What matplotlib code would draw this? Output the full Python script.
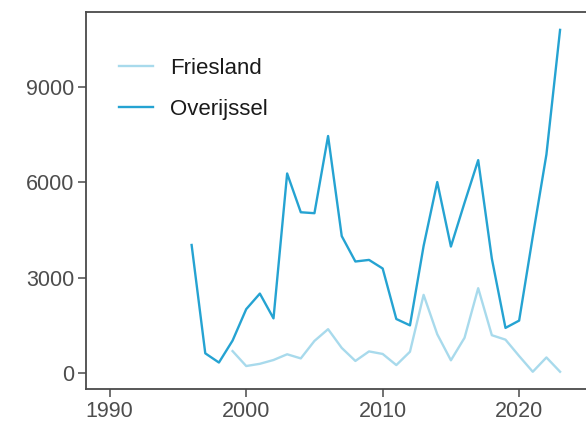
import matplotlib
matplotlib.use('Agg')
import matplotlib.pyplot as plt

plt.rcParams['font.family'] = ['Liberation Sans', 'DejaVu Sans']

# data
jaren_ov = list(range(1996, 2024))
overijssel = [4030, 620, 330, 1020, 2010, 2500, 1720, 6280, 5060, 5030,
              7460, 4310, 3510, 3560, 3290, 1700, 1500, 4000, 6010, 3980,
              5360, 6700, 3600, 1420, 1650, 4300, 6880, 10800]
jaren_fr = list(range(1999, 2024))
friesland = [690, 220, 290, 410, 590, 460, 1010, 1380, 790, 380,
             680, 600, 250, 670, 2460, 1220, 400, 1110, 2670, 1190,
             1050, 535, 40, 490, 40]
xticks = [1990, 2000, 2010, 2020]
yticks = [0, 3000, 6000, 9000]

c_fr = '#a8daec'
c_ov = '#25a3d2'

fig = plt.figure(figsize=(5.86, 4.21), dpi=100)
ax = fig.add_axes([86/586, 1-389/421, 500/586, 377/421])

ax.plot(jaren_fr, friesland, color=c_fr, lw=1.7, label='Friesland')
ax.plot(jaren_ov, overijssel, color=c_ov, lw=1.7, label='Overijssel')

ax.set_xlim(1988.26, 2024.9)
ax.set_ylim(-503, 11363)
ax.set_xticks(xticks)
ax.set_yticks(yticks)

for s in ['left', 'bottom', 'top']:
    ax.spines[s].set_color('#4a4a4a')
    ax.spines[s].set_linewidth(1.3)
ax.spines['right'].set_visible(False)
ax.tick_params(length=5.5, width=1.1, color='#4a4a4a', labelcolor='#4d4d4d',
               labelsize=15.5, pad=3)

leg = ax.legend(loc='upper left', bbox_to_anchor=(0.066, 0.878), frameon=False,
                fontsize=16, handlelength=1.53, handletextpad=0.77,
                labelspacing=0.9, borderpad=0, borderaxespad=0)
for t in leg.get_texts():
    t.set_color('#1a1a1a')

fig.savefig('out.png', dpi=100)
